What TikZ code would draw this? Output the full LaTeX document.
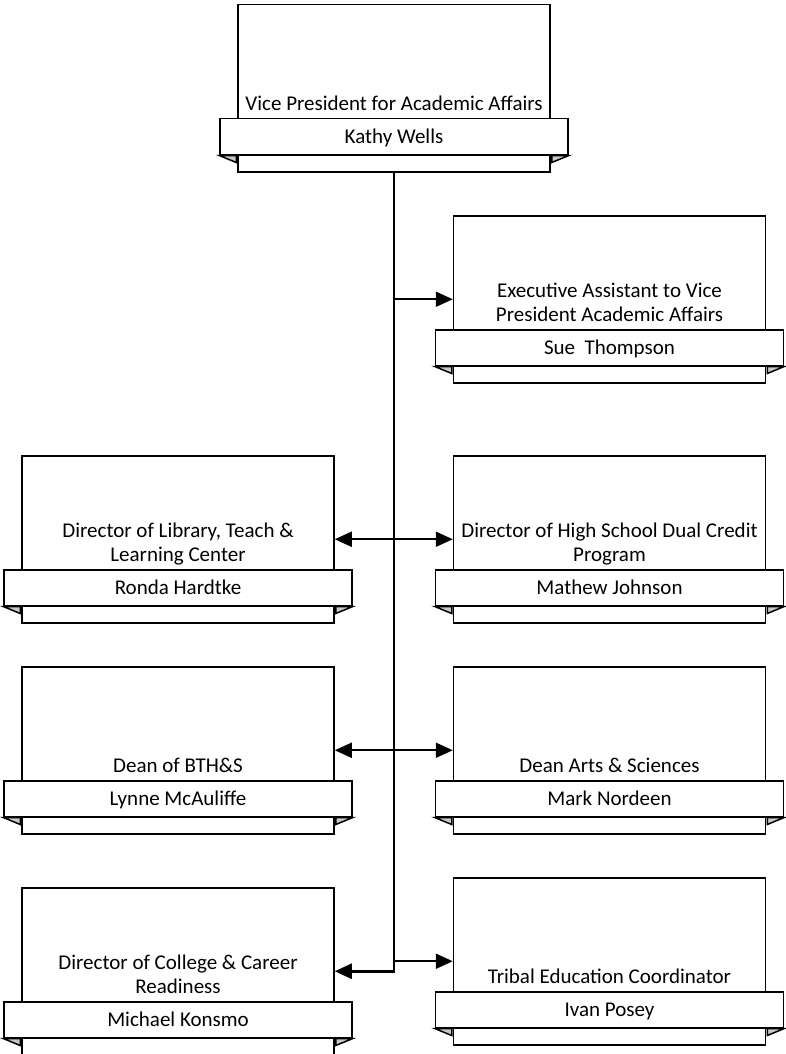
\documentclass[tikz,border=0pt]{standalone}
\usepackage{fontspec}
\setmainfont{Carlito}
\usetikzlibrary{arrows.meta,calc}
\definecolor{foldgray}{RGB}{200,200,200}
\tikzset{
  boxline/.style={draw=black, line width=1.5pt},
  mainbox/.style={boxline, fill=white, minimum width=312pt, minimum height=167pt, inner sep=0pt, anchor=north},
  ribbon/.style={boxline, fill=white, minimum width=348pt, minimum height=36pt, inner sep=0pt, anchor=north, text height=13.5pt, text depth=0pt, font=\fontsize{21}{24}\selectfont},
  titletext/.style={anchor=south, align=center, inner sep=0pt, text depth=4pt, font=\fontsize{21}{24}\selectfont},
  fold/.style={boxline, fill=foldgray, line join=miter},
  arr/.style={line width=2pt, draw=black, -{Triangle[length=17pt,width=15pt]}},
  trunk/.style={arr, line width=2.5pt},
}
\newcommand\orgunit[5]{%
  \node[mainbox] (#1) at (#2,#3) {};
  \node[ribbon] (#1-name) at ($(#1.north)+(0,114)$) {#5};
  \node[titletext] (#1-title) at ($(#1-name.north)+(0,-3)$) {#4};
  \filldraw[fold] (#1-name.south west) -- ++(17,0) -- ++(0,7) -- cycle;
  \filldraw[fold] (#1-name.south east) -- ++(-17,0) -- ++(0,7) -- cycle;
}
\begin{document}
\begin{tikzpicture}[x=1pt,y=-1pt]
  \fill[white] (0,0) rectangle (785,1054);
  \path[use as bounding box] (0,0) rectangle (785,1054);
  \orgunit{vp}{394}{4}{Vice President for Academic Affairs}{Kathy Wells}
  \orgunit{exec}{609.5}{215}{Executive Assistant to Vice\\President Academic Affairs}{Sue\ \ Thompson}
  \orgunit{lib}{178}{455}{Director of Library, Teach \&\\Learning Center}{Ronda Hardtke}
  \orgunit{dual}{609.5}{455}{Director of High School Dual Credit\\Program}{Mathew Johnson}
  \orgunit{bth}{178}{666}{Dean of BTH\&S}{Lynne McAuliffe}
  \orgunit{arts}{609.5}{666}{Dean Arts \& Sciences}{Mark Nordeen}
  \orgunit{college}{178}{887}{Director of College \& Career\\Readiness}{Michael Konsmo}
  \orgunit{tribal}{609.5}{877}{Tribal Education Coordinator}{Ivan Posey}
  \draw[trunk] (vp.south) |- (college.east);
  \draw[arr] (vp.south |- exec.west) -- (exec.west);
  \draw[arr] (vp.south |- lib.east) -- (lib.east);
  \draw[arr] (vp.south |- dual.west) -- (dual.west);
  \draw[arr] (vp.south |- bth.east) -- (bth.east);
  \draw[arr] (vp.south |- arts.west) -- (arts.west);
  \draw[arr] (vp.south |- tribal.west) -- (tribal.west);
\end{tikzpicture}
\end{document}
